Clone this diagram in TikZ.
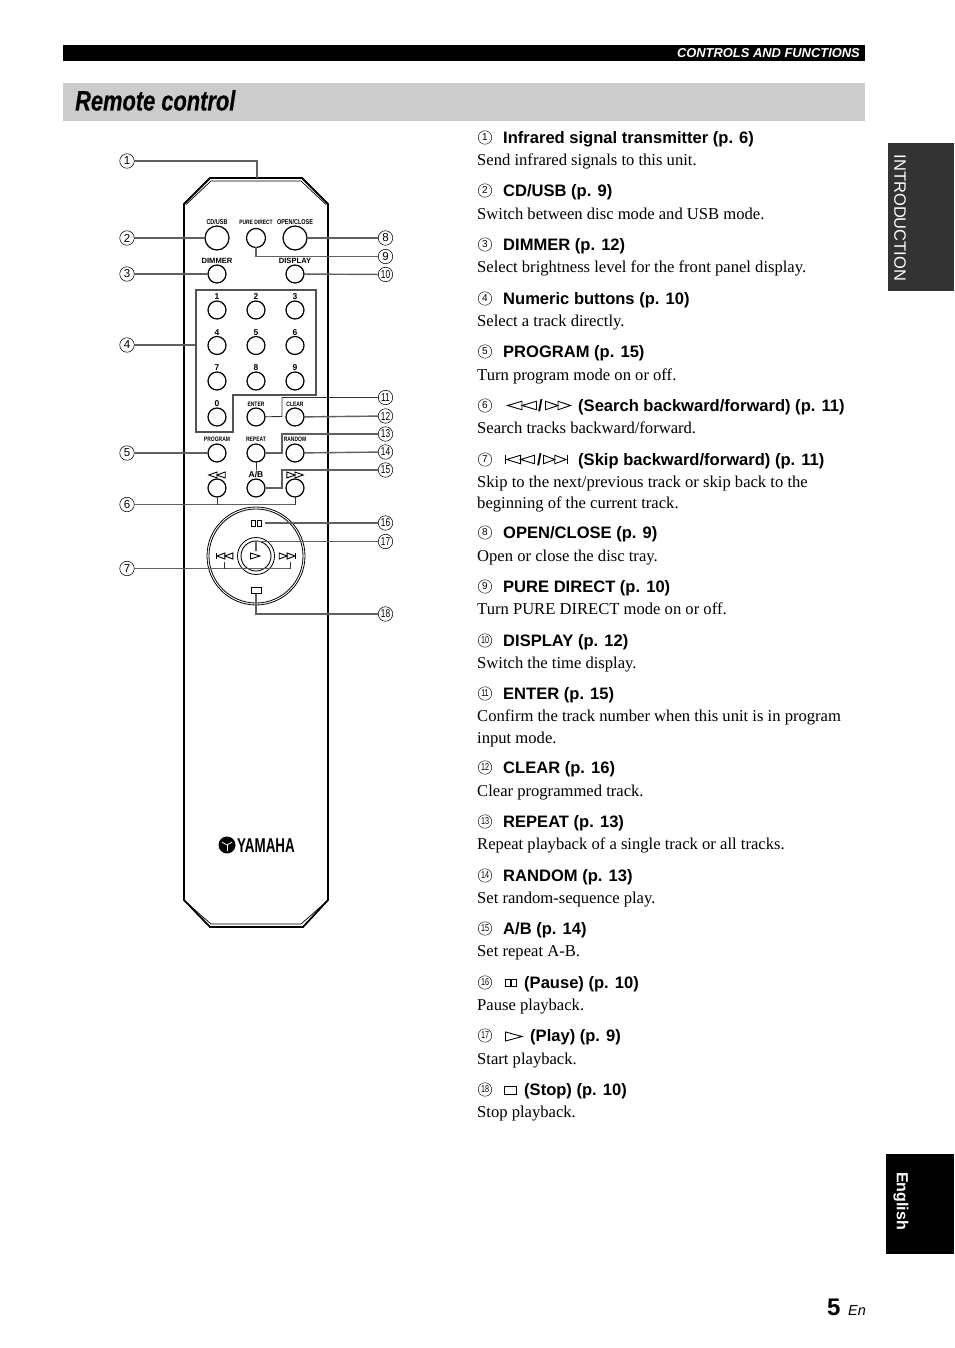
\documentclass[tikz,border=0pt]{standalone}
\usepackage{fontspec}
\setmainfont{Liberation Serif}
\setsansfont{Liberation Sans}
\newfontfamily\titlefont[FakeStretch=0.78,FakeBold=0.35]{Liberation Sans Bold Italic}
\newfontfamily\narrowfont[FakeStretch=0.72]{Liberation Sans}
\newfontfamily\narrowbold[FakeStretch=0.78]{Liberation Sans Bold}
\newfontfamily\logobold[FakeStretch=0.67]{Liberation Sans Bold}
\usetikzlibrary{calc}
\definecolor{lead}{HTML}{606060}
\definecolor{bandgray}{HTML}{CCCCCC}
\definecolor{tabgray}{HTML}{333333}
\tikzset{
  btn/.style={circle,draw=black,line width=1.25,minimum size=#1,inner sep=0,outer sep=0},
  btn/.default=18,
  lbl/.style={font=\sffamily\bfseries\fontsize{8.5}{8}\selectfont,inner sep=0},
  tiny/.style={font=\narrowbold\fontsize{6.4}{7}\selectfont,inner sep=0},
  call/.style={circle,draw=black,line width=.55,minimum size=14.5,inner sep=0,outer sep=0,
     font=\sffamily\fontsize{11.5}{10}\selectfont},
  callb/.style={call,font=\narrowfont\fontsize{11.5}{10}\selectfont},
  num/.style={circle,draw=black,line width=.45,minimum size=13.5,inner sep=0,outer sep=0,
     font=\sffamily\fontsize{10}{9}\selectfont},
  numb/.style={num,font=\narrowfont\fontsize{10}{9}\selectfont},
  head/.style={anchor=base west,inner sep=0,font=\sffamily\bfseries\fontsize{16.55}{18}\selectfont},
  body/.style={anchor=base west,inner sep=0,yshift=-.8pt,font=\rmfamily\fontsize{16.6}{18}\selectfont},
  leader/.style={draw=lead,line width=1.4},
  thinlead/.style={draw=black!80,line width=.9},
  icon/.style={draw=black,line width=.9,line join=miter},
  pics/fwd/.style={code={
    \draw[icon] (-1,-.5)--(-1,.5)--(0,0)--cycle;
    \draw[icon] (0,-.5)--(0,.5)--(1,0)--cycle;}},
  pics/bwd/.style={code={
    \draw[icon] (1,-.5)--(1,.5)--(0,0)--cycle;
    \draw[icon] (0,-.5)--(0,.5)--(-1,0)--cycle;}},
  pics/skipfwd/.style={code={
    \draw[icon] (-1,-.5)--(-1,.5)--(-.1,0)--cycle;
    \draw[icon] (-.1,-.5)--(-.1,.5)--(.8,0)--cycle;
    \draw[icon] (.9,-.5)--(.9,.5);}},
  pics/skipbwd/.style={code={
    \draw[icon] (1,-.5)--(1,.5)--(.1,0)--cycle;
    \draw[icon] (.1,-.5)--(.1,.5)--(-.8,0)--cycle;
    \draw[icon] (-.9,-.5)--(-.9,.5);}},
}
\newcommand{\iconat}[5]{%
  \begin{scope}[shift={(#2,#3)},x=#4pt,y=#5pt]\pic {#1};\end{scope}}
\newcommand{\entry}[5]{%
  \node[#5] (n#1) at (485,#2) {#1};
  \node[head] (h#1) at (#3,#2+6) {#4};
}
\begin{document}
\begin{tikzpicture}[x=1pt,y=-1pt]
\useasboundingbox[fill=white] (0,0) rectangle (954,1348);
% ---- page furniture
\fill[black] (63,45) rectangle (865,61);
\node[anchor=east,inner sep=0,text=white,font=\sffamily\bfseries\itshape\fontsize{12.9}{13}\selectfont] (hdr) at (860,53) {CONTROLS AND FUNCTIONS};
\fill[bandgray] (63,83) rectangle (865,121);
\node[anchor=base west,inner sep=0,font=\titlefont\fontsize{28}{30}\selectfont] (title) at (75,110.5) {Remote control};
\fill[tabgray] (888,143) rectangle (954,291);
\node[rotate=-90,inner sep=0,text=white,font=\sffamily\fontsize{16.5}{16}\selectfont] (intro) at (900,218) {INTRODUCTION};
\fill[black] (886,1154) rectangle (954,1254);
\node[rotate=-90,inner sep=0,text=white,font=\sffamily\bfseries\fontsize{16}{16}\selectfont] (eng) at (901,1201) {English};
\node[anchor=base west,inner sep=0,font=\sffamily\bfseries\fontsize{24}{24}\selectfont] (pg) at (827,1315) {5};
\node[anchor=base west,inner sep=0,font=\sffamily\itshape\fontsize{14.5}{15}\selectfont] (en) at (848,1315) {En};
% ---- remote body
\draw[black,line width=1.8,line join=miter] (184,204)--(210,178)--(302,178)--(328,204)--(328,900)--(303,927)--(210,927)--(184,900)--cycle;
\draw[black,line width=.7] (186,204.5)--(211,181)--(301,181)--(326,204.5);
\draw[black,line width=.7] (186,902)--(211,924)--(301,924)--(326,902);
% gray key group
\node[inner sep=0] (grp) at (196,345) {};
\draw[lead!85!black,line width=1.7] (196,290)--(316,290)--(316,395)--(233,395)--(233,432)--(196,432)--cycle;
% buttons
\node[btn=24] (cd) at (217,238) {};
\node[btn=19] (pure) at (256,238) {};
\node[btn=24] (open) at (295,238) {};
\node[btn=18] (dim) at (217,274) {};
\node[btn=18] (disp) at (295,274) {};
\foreach \nm/\x/\y/\t/\ty in {k1/217/310/1/297,k2/256/310/2/297,k3/295/310/3/297,k4/217/345.5/4/333,k5/256/345.5/5/333,k6/295/345.5/6/333,k7/217/381/7/368,k8/256/381/8/368,k9/295/381/9/368,k0/217/417/0/404}{
  \node[btn] (\nm) at (\x,\y) {};
  \node[lbl] (t\nm) at (\x,\ty) {\t};
}
\node[btn] (enter) at (256,417) {};
\node[btn] (clear) at (295,417) {};
\node[btn] (prog) at (217,453) {};
\node[btn] (rep) at (256,453) {};
\node[btn] (rnd) at (295,453) {};
\node[btn] (rew) at (217,488) {};
\node[btn] (ab) at (256,488) {};
\node[btn] (ffw) at (295,488) {};
% button captions
\node[tiny,font=\narrowbold\fontsize{7}{7}\selectfont] (tcd) at (217,222.5) {CD/USB};
\node[tiny,font=\narrowbold\fontsize{6.3}{7}\selectfont] (tpd) at (256,222.5) {PURE DIRECT};
\node[tiny,font=\narrowbold\fontsize{7}{7}\selectfont] (top) at (295,222.5) {OPEN/CLOSE};
\node[lbl,font=\sffamily\bfseries\fontsize{7.6}{8}\selectfont] (tdim) at (217,261) {DIMMER};
\node[lbl,font=\sffamily\bfseries\fontsize{7.6}{8}\selectfont] (tdisp) at (295,261) {DISPLAY};
\node[tiny] (tent) at (256,404) {ENTER};
\node[tiny] (tclr) at (295,404) {CLEAR};
\node[tiny] (tprog) at (217,439.5) {PROGRAM};
\node[tiny] (trep) at (256,439.5) {REPEAT};
\node[tiny] (trnd) at (295,439.5) {RANDOM};
\node[lbl] (tab) at (256,475) {A/B};
\iconat{bwd}{217}{475}{8.2}{6}
\iconat{fwd}{295}{475}{8.2}{6}
% transport dial
\node[btn=98,line width=.8] (dial) at (256,556) {};
\node[circle,draw=black,line width=.8,minimum size=94,inner sep=0] (dial2) at (256,556) {};
\node[btn=37,line width=.8] (ctr) at (256,556) {};
\node[btn=30,line width=.9] (ctr2) at (256,556) {};
\coordinate (pauseR) at (265,523);
\draw[icon] (251,520) rectangle (255.5,526);
\draw[icon] (257,520) rectangle (261.5,526);
\draw[icon] (251,587) rectangle (261,593);
\draw[icon] (250.5,553)--(250.5,559)--(260,556)--cycle;
\iconat{skipbwd}{224}{556}{8.8}{6}
\iconat{skipfwd}{288}{556}{8.8}{6}
% ---- logo
\node[circle,fill=black,minimum size=17,inner sep=0] (logo) at (227,845) {};
\foreach \a in {90,210,330}{\draw[white,line width=.8] (logo.center)--++(\a:6);}
\node[anchor=base west,inner sep=0,font=\logobold\fontsize{20}{20}\selectfont] (yam) at (237,852) {YAMAHA};
% ---- callouts
\foreach \nm/\x/\y in {1/127/161,2/127/238,3/127/274,4/127/345,5/127/453,6/127/504.5,7/127/568.5}{
  \node[call] (l\nm) at (\x,\y) {\nm};}
\foreach \nm/\y in {8/238,9/256.5,10/274.5,11/397.5,12/416,13/434,14/452,15/470,16/523,17/541.5,18/614}{
  \ifnum\nm>9 \node[callb] (l\nm) at (385.5,\y) {\nm};\else \node[call] (l\nm) at (385.5,\y) {\nm};\fi}
\coordinate (c1) at (257,178);
\coordinate (c6a) at (217,504.5);
\coordinate (c6b) at (295,504.5);
\coordinate (c7a) at (224,568.5);
\coordinate (c7b) at (290,568.5);
\coordinate (c7c) at (224,562);
\coordinate (c7d) at (290,562);
\coordinate (c11) at (282,416.5);
\coordinate (c13) at (282,453);
\coordinate (c15) at (282,488);
\coordinate (c17) at (256,551);
\coordinate (c18) at (256,593.5);
\coordinate (c13v) at (256,470);
\draw[leader] (l1) -| (c1);
\draw[leader] (l2) -- (cd);
\draw[leader] (l3) -- (dim);
\draw[leader] (l4) -- (grp);
\draw[leader] (l5) -- (prog);
\draw[leader] (l6) -- (c6b);
\draw[thinlead] (c6a) -- (rew);
\draw[thinlead] (c6b) -- (ffw);
\draw[leader] (l7) -- (c7b);
\draw[thinlead] (c7a) -- (c7c);
\draw[thinlead] (c7b) -- (c7d);
\draw[leader] (l8) -- (open);
\draw[leader] (l9) -| (pure);
\draw[leader] (l10) -- (disp);
\draw[thinlead] (l11) -| (c11) -- (enter);
\draw[leader] (l12) -- (clear);
\draw[leader] (l13) -| (c13) -- (rep);
\draw[leader] (l14) -- (rnd);
\draw[thinlead] (rep) -- (c13v);
\draw[leader] (l15) -| (c15) -- (ab);
\draw[leader] (l16) -- (pauseR);
\draw[leader] (l17) -| (c17);
\draw[leader] (l18) -| (c18);
% ---- text column
\entry{1}{137.5}{503}{Infrared signal transmitter (p. 6)}{num}
\node[body] (b1) at (477,165) {Send infrared signals to this unit.};
\entry{2}{190.5}{503}{CD/USB (p. 9)}{num}
\node[body] (b2) at (477,219) {Switch between disc mode and USB mode.};
\entry{3}{244.5}{503}{DIMMER (p. 12)}{num}
\node[body] (b3) at (477,272) {Select brightness level for the front panel display.};
\entry{4}{298.5}{503}{Numeric buttons (p. 10)}{num}
\node[body] (b4) at (477,326) {Select a track directly.};
\entry{5}{351.5}{503}{PROGRAM (p. 15)}{num}
\node[body] (b5) at (477,380) {Turn program mode on or off.};
\entry{6}{405.5}{578}{(Search backward/forward) (p. 11)}{num}
\node[head] (s6) at (538,411.5) {/};
\iconat{bwd}{522}{405.5}{14.5}{8.5}
\iconat{fwd}{558}{405.5}{12.5}{8.5}
\node[body] (b6) at (477,433) {Search tracks backward/forward.};
\entry{7}{459.5}{578}{(Skip backward/forward) (p. 11)}{num}
\node[head] (s7) at (537,465.5) {/};
\iconat{skipbwd}{519}{459.5}{15.5}{8.5}
\iconat{skipfwd}{556}{459.5}{12.5}{8.5}
\node[body] (b7) at (477,487) {Skip to the next/previous track or skip back to the};
\node[body] (b7x) at (477,508) {beginning of the current track.};
\entry{8}{532.5}{503}{OPEN/CLOSE (p. 9)}{num}
\node[body] (b8) at (477,561) {Open or close the disc tray.};
\entry{9}{586.5}{503}{PURE DIRECT (p. 10)}{num}
\node[body] (b9) at (477,614) {Turn PURE DIRECT mode on or off.};
\entry{10}{640.5}{503}{DISPLAY (p. 12)}{numb}
\node[body] (b10) at (477,668) {Switch the time display.};
\entry{11}{693.5}{503}{ENTER (p. 15)}{numb}
\node[body] (b11) at (477,721) {Confirm the track number when this unit is in program};
\node[body] (b11x) at (477,742.5) {input mode.};
\entry{12}{767.5}{503}{CLEAR (p. 16)}{numb}
\node[body] (b12) at (477,796) {Clear programmed track.};
\entry{13}{821.5}{503}{REPEAT (p. 13)}{numb}
\node[body] (b13) at (477,849) {Repeat playback of a single track or all tracks.};
\entry{14}{875.5}{503}{RANDOM (p. 13)}{numb}
\node[body] (b14) at (477,903) {Set random-sequence play.};
\entry{15}{928.5}{503}{A/B (p. 14)}{numb}
\node[body] (b15) at (477,956) {Set repeat A-B.};
\entry{16}{982.5}{524}{(Pause) (p. 10)}{numb}
\draw[icon] (505.5,979.5) rectangle (510,986);
\draw[icon] (511.5,979.5) rectangle (516,986);
\node[body] (b16) at (477,1010) {Pause playback.};
\entry{17}{1035.5}{530}{(Play) (p. 9)}{numb}
\draw[icon] (505.5,1032)--(505.5,1041)--(522,1036.5)--cycle;
\node[body] (b17) at (477,1064) {Start playback.};
\entry{18}{1089.5}{524}{(Stop) (p. 10)}{numb}
\draw[icon] (504.5,1086) rectangle (516.5,1094);
\node[body] (b18) at (477,1117) {Stop playback.};
\end{tikzpicture}
\end{document}
